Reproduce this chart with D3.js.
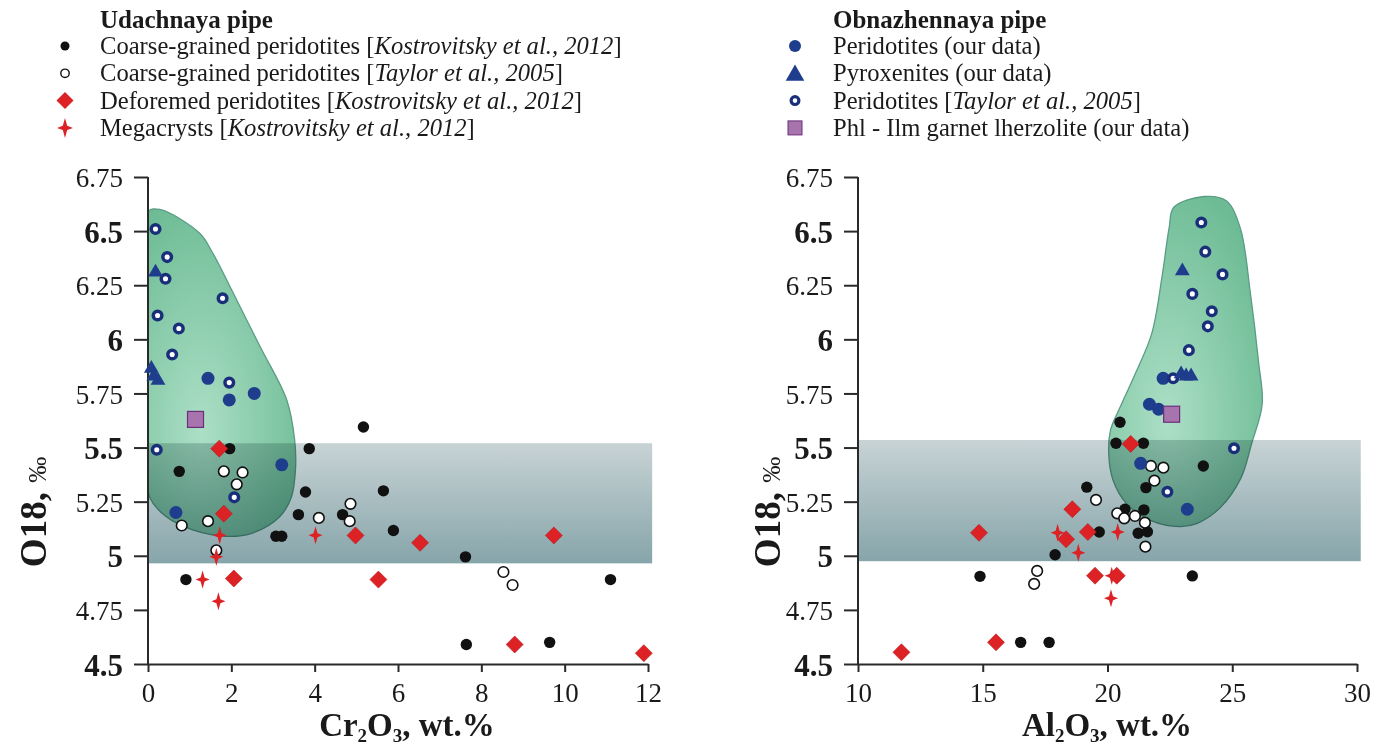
<!DOCTYPE html>
<html lang="en">

<head>
  <meta charset="UTF-8">
  <title>O18 vs Cr2O3 / Al2O3</title>
  <script src="https://d3js.org/d3.v7.min.js"></script>
  <style>
    body { margin: 0; background: #fff; }
    svg text { font-family: 'Liberation Serif', 'Times New Roman', serif; fill: #1a1a1a; }
    .axis path, .axis line { stroke: #2a2a2a; stroke-width: 2; }
  </style>
</head>

<body>
  <div id="chart"></div>

  <script>
    // Y ticks shared by both panels (bold ones are the half values)
    const yTicks = [4.5, 4.75, 5, 5.25, 5.5, 5.75, 6, 6.25, 6.5, 6.75];
    const yBold = [4.5, 5, 5.5, 6, 6.5];
    const crTicks = [0, 2, 4, 6, 8, 10, 12];
    const alTicks = [10, 15, 20, 25, 30];

    // ---- Udachnaya pipe, Cr2O3 panel ----
    const crCoarseKost = [[1.96,5.495],[3.87,5.495],[5.17,5.595],[0.75,5.39],[3.78,5.295],[5.65,5.30],[3.61,5.19],[4.67,5.19],[3.07,5.09],[3.21,5.09],[5.89,5.117],[7.62,4.995],[0.91,4.89],[11.1,4.89],[7.64,4.59],[9.64,4.60]];
    const crCoarseTaylor = [[1.82,5.39],[2.27,5.385],[2.13,5.33],[1.44,5.16],[0.81,5.14],[4.10,5.175],[4.86,5.24],[4.84,5.16],[1.64,5.025],[8.53,4.925],[8.75,4.865]];
    const crDeformed = [[1.71,5.495],[1.82,5.194],[4.98,5.094],[6.53,5.06],[9.74,5.094],[2.06,4.895],[5.53,4.89],[8.80,4.59],[11.9,4.55]];
    const crMegacrysts = [[1.72,5.095],[4.02,5.095],[1.64,4.995],[1.31,4.89],[1.69,4.79]];
    // Obnazhennaya pipe, Cr2O3 panel
    const crPeridOur = [[1.44,5.82],[1.95,5.72],[2.55,5.75],[3.21,5.42],[0.67,5.20]];
    const crPyrox = [[0.18,6.31],[0.08,5.865],[0.14,5.83],[0.24,5.81]];
    const crPeridTaylor = [[0.18,6.51],[0.46,6.38],[0.42,6.28],[0.23,6.11],[0.74,6.05],[0.58,5.93],[1.79,6.19],[1.95,5.80],[0.21,5.49],[2.07,5.27]];
    const crPhlIlm = [[1.14,5.63]];

    // ---- Udachnaya pipe, Al2O3 panel ----
    const alCoarseKost = [[20.50,5.617],[20.34,5.52],[21.44,5.52],[23.84,5.415],[19.17,5.317],[21.54,5.315],[20.70,5.215],[21.46,5.212],[19.67,5.11],[21.23,5.104],[21.60,5.111],[17.90,5.005],[14.89,4.905],[23.40,4.907],[16.52,4.60],[17.66,4.60]];
    const alCoarseTaylor = [[21.74,5.415],[22.24,5.407],[21.88,5.347],[19.54,5.258],[20.39,5.196],[20.67,5.173],[21.10,5.184],[21.50,5.153],[21.52,5.042],[17.18,4.93],[17.06,4.87]];
    const alDeformed = [[20.93,5.517],[18.59,5.215],[14.85,5.106],[19.21,5.11],[18.34,5.076],[19.50,4.908],[20.37,4.908],[15.53,4.60],[11.74,4.554]];
    const alMegacrysts = [[18.0,5.106],[20.41,5.11],[18.83,5.014],[20.17,4.908],[20.14,4.804]];
    // Obnazhennaya pipe, Al2O3 panel
    const alPeridOur = [[21.68,5.70],[22.05,5.677],[22.23,5.82],[21.33,5.427],[23.20,5.215]];
    const alPyrox = [[23.0,6.316],[22.95,5.84],[23.15,5.83],[23.35,5.83]];
    const alPeridTaylor = [[23.76,6.54],[23.92,6.405],[24.61,6.30],[23.40,6.21],[24.18,6.13],[24.02,6.06],[23.26,5.95],[22.63,5.82],[25.07,5.497],[22.40,5.296]];
    const alPhlIlm = [[22.57,5.654]];

    // Mantle band (O18 range) and field outlines
    const crBand = [0, 12.1, 4.965, 5.52];
    const alBand = [10, 30.15, 4.975, 5.535];
    const crField = [[0,6.59],[0.28,6.60],[1.24,6.49],[1.55,6.40],[2.03,6.22],[2.68,5.97],[3.33,5.72],[3.52,5.535],[3.54,5.40],[3.44,5.27],[3.16,5.18],[2.51,5.105],[1.88,5.09],[1.07,5.12],[0.44,5.18],[0.04,5.27],[0,5.35],[0,5.9]];
    const alField = [[23.87,6.66],[24.76,6.64],[25.32,6.515],[25.73,6.21],[26.05,5.90],[26.2,5.70],[25.78,5.52],[25.35,5.36],[24.5,5.22],[23.6,5.15],[22.9,5.135],[21.7,5.165],[20.77,5.24],[20.22,5.35],[20.05,5.47],[20.12,5.58],[20.48,5.68],[21.05,5.825],[21.77,6.025],[22.18,6.285],[22.47,6.515],[22.66,6.61]];

    var width = 1391, height = 749;
    var svg = d3.select("#chart").append("svg")
      .attr("width", width)
      .attr("height", height);

    var defs = svg.append("defs");

    // band gradient
    var bg = defs.append("linearGradient").attr("id", "bandGrad")
      .attr("x1", 0).attr("y1", 0).attr("x2", 0).attr("y2", 1);
    bg.append("stop").attr("offset", "0%").attr("stop-color", "#c8d3d5");
    bg.append("stop").attr("offset", "100%").attr("stop-color", "#86a5aa");

    // field gradient
    var fg = defs.append("radialGradient").attr("id", "fieldGrad")
      .attr("cx", 0.38).attr("cy", 0.68).attr("r", 0.75);
    fg.append("stop").attr("offset", "0%").attr("stop-color", "#acdfc6");
    fg.append("stop").attr("offset", "100%").attr("stop-color", "#6cbb94");

    var y = d3.scaleLinear().domain([4.5, 6.75]).range([664, 177]);

    // symbol paths
    function diamond(r) { return "M0," + (-r) + "L" + r + ",0L0," + r + "L" + (-r) + ",0Z"; }
    function star(h, w) {
      var a = h * 0.22;
      return "M0," + (-h) + "L" + a + "," + (-a) + "L" + w + ",0L" + a + "," + a +
        "L0," + h + "L" + (-a) + "," + a + "L" + (-w) + ",0L" + (-a) + "," + (-a) + "Z";
    }
    var tri = d3.symbol().type(d3.symbolTriangle);

    function drawPanel(opt) {
      var x = opt.x;
      var g = svg.append("g");

      // clip the field at the y axis
      defs.append("clipPath").attr("id", "clip-" + opt.id)
        .append("rect")
        .attr("x", x.range()[0]).attr("y", 0)
        .attr("width", 600).attr("height", 700);

      // band
      g.append("rect")
        .attr("x", x(opt.band[0]))
        .attr("y", y(opt.band[3]))
        .attr("width", x(opt.band[1]) - x(opt.band[0]))
        .attr("height", y(opt.band[2]) - y(opt.band[3]))
        .attr("fill", "url(#bandGrad)");

      // field
      g.append("path")
        .datum(opt.field)
        .attr("d", d3.line().x(d => x(d[0])).y(d => y(d[1])).curve(d3.curveCatmullRomClosed.alpha(0.5)))
        .attr("clip-path", "url(#clip-" + opt.id + ")")
        .attr("fill", "url(#fieldGrad)")
        .attr("stroke", "#5b9c85")
        .attr("stroke-width", 1.3)
        .style("mix-blend-mode", "multiply");

      // axes
      var ya = g.append("g").attr("class", "axis")
        .attr("transform", "translate(" + x.range()[0] + ",0)")
        .call(d3.axisLeft(y).tickValues(yTicks).tickSize(14).tickSizeOuter(0).tickPadding(11)
          .tickFormat(d => String(d)));
      ya.selectAll("text")
        .style("font-size", d => yBold.includes(d) ? "31px" : "27px")
        .style("font-weight", d => yBold.includes(d) ? "bold" : "normal")
        .attr("dy", "0.36em");

      var xa = g.append("g").attr("class", "axis")
        .attr("transform", "translate(0,664)")
        .call(d3.axisBottom(x).tickValues(opt.ticks).tickSize(8).tickSizeOuter(0).tickPadding(11));
      xa.selectAll("text").style("font-size", "27px");
      ya.select(".domain").attr("d", "M0," + y(6.75) + "V664");

      // points
      var pts = g.append("g");
      pts.selectAll(".ck").data(opt.coarseKost).enter().append("circle")
        .attr("cx", d => x(d[0])).attr("cy", d => y(d[1])).attr("r", 5.7)
        .attr("fill", "#111");
      pts.selectAll(".ct").data(opt.coarseTaylor).enter().append("circle")
        .attr("cx", d => x(d[0])).attr("cy", d => y(d[1])).attr("r", 5.3)
        .attr("fill", "#fff").attr("stroke", "#111").attr("stroke-width", 1.6);
      pts.selectAll(".df").data(opt.deformed).enter().append("path")
        .attr("transform", d => "translate(" + x(d[0]) + "," + y(d[1]) + ")")
        .attr("d", diamond(8.5)).attr("fill", "#dd2226").attr("stroke", "#b81a1e").attr("stroke-width", 0.6);
      pts.selectAll(".mg").data(opt.megacrysts).enter().append("path")
        .attr("transform", d => "translate(" + x(d[0]) + "," + y(d[1]) + ")")
        .attr("d", star(9, 7)).attr("fill", "#dd2226");
      pts.selectAll(".po").data(opt.peridOur).enter().append("circle")
        .attr("cx", d => x(d[0])).attr("cy", d => y(d[1])).attr("r", 6.5)
        .attr("fill", "#1e3d8c");
      pts.selectAll(".pt").data(opt.peridTaylor).enter().append("circle")
        .attr("cx", d => x(d[0])).attr("cy", d => y(d[1])).attr("r", 4.3)
        .attr("fill", "#fff").attr("stroke", "#1a2f7a").attr("stroke-width", 3.5);
      pts.selectAll(".px").data(opt.pyrox).enter().append("path")
        .attr("transform", d => "translate(" + x(d[0]) + "," + y(d[1]) + ")")
        .attr("d", tri.size(95)()).attr("fill", "#1e3d8c");
      pts.selectAll(".sq").data(opt.phlIlm).enter().append("rect")
        .attr("x", d => x(d[0]) - 8).attr("y", d => y(d[1]) - 8)
        .attr("width", 16).attr("height", 16)
        .attr("fill", "#a874ae").attr("stroke", "#6b2f7c").attr("stroke-width", 1.2);

      // y title
      var yt = g.append("text")
        .attr("transform", "translate(" + opt.yTitleX + ",512) rotate(-90)")
        .attr("text-anchor", "middle");
      yt.append("tspan").style("font-size", "37px").style("font-weight", "bold").text("O18, ");
      yt.append("tspan").style("font-size", "26px").text("‰");

      // x title
      var xt = g.append("text")
        .attr("x", opt.xTitleX).attr("y", 736)
        .attr("text-anchor", "middle")
        .style("font-size", "33px").style("font-weight", "bold");
      xt.append("tspan").text(opt.el);
      xt.append("tspan").attr("dy", 6).style("font-size", "19px").text("2");
      xt.append("tspan").attr("dy", -6).text("O");
      xt.append("tspan").attr("dy", 6).style("font-size", "19px").text("3");
      xt.append("tspan").attr("dy", -6).text(", wt.%");
    }

    drawPanel({
      id: "cr",
      x: d3.scaleLinear().domain([0, 12]).range([148, 648]),
      ticks: crTicks, band: crBand, field: crField,
      coarseKost: crCoarseKost, coarseTaylor: crCoarseTaylor, deformed: crDeformed, megacrysts: crMegacrysts,
      peridOur: crPeridOur, pyrox: crPyrox, peridTaylor: crPeridTaylor, phlIlm: crPhlIlm,
      yTitleX: 46, xTitleX: 407, el: "Cr"
    });
    drawPanel({
      id: "al",
      x: d3.scaleLinear().domain([10, 30]).range([858, 1357]),
      ticks: alTicks, band: alBand, field: alField,
      coarseKost: alCoarseKost, coarseTaylor: alCoarseTaylor, deformed: alDeformed, megacrysts: alMegacrysts,
      peridOur: alPeridOur, pyrox: alPyrox, peridTaylor: alPeridTaylor, phlIlm: alPhlIlm,
      yTitleX: 780, xTitleX: 1107, el: "Al"
    });

    // Legends
    function legend(lx, tx, title, items) {
      var g = svg.append("g");
      g.append("text").attr("x", tx).attr("y", 28)
        .style("font-size", "25px").style("font-weight", "bold").text(title);
      items.forEach(function (it, i) {
        var cy = 46 + i * 27.3;
        it.mark(g, lx, cy);
        var t = g.append("text").attr("x", tx).attr("y", cy + 8).style("font-size", "24.6px");
        t.append("tspan").text(it.a);
        if (it.i) {
          t.append("tspan").style("font-style", "italic").text(it.i);
          t.append("tspan").text("]");
        }
      });
    }

    legend(65, 100, "Udachnaya pipe", [
      { a: "Coarse-grained peridotites [", i: "Kostrovitsky et al., 2012",
        mark: (g, x, y) => g.append("circle").attr("cx", x).attr("cy", y).attr("r", 4.5).attr("fill", "#111") },
      { a: "Coarse-grained peridotites [", i: "Taylor et al., 2005",
        mark: (g, x, y) => g.append("circle").attr("cx", x).attr("cy", y).attr("r", 4.2).attr("fill", "#fff").attr("stroke", "#111").attr("stroke-width", 1.4) },
      { a: "Deforemed peridotites [", i: "Kostrovitsky et al., 2012",
        mark: (g, x, y) => g.append("path").attr("transform", "translate(" + x + "," + y + ")").attr("d", diamond(8.5)).attr("fill", "#dd2226") },
      { a: "Megacrysts [", i: "Kostrovitsky et al., 2012",
        mark: (g, x, y) => g.append("path").attr("transform", "translate(" + x + "," + y + ")").attr("d", star(10, 8)).attr("fill", "#dd2226") }
    ]);

    legend(795, 833, "Obnazhennaya pipe", [
      { a: "Peridotites (our data)",
        mark: (g, x, y) => g.append("circle").attr("cx", x).attr("cy", y).attr("r", 6).attr("fill", "#1e3d8c") },
      { a: "Pyroxenites (our data)",
        mark: (g, x, y) => g.append("path").attr("transform", "translate(" + x + "," + (y + 2) + ")").attr("d", tri.size(150)()).attr("fill", "#1e3d8c") },
      { a: "Peridotites [", i: "Taylor et al., 2005",
        mark: (g, x, y) => g.append("circle").attr("cx", x).attr("cy", y).attr("r", 3.9).attr("fill", "#fff").attr("stroke", "#1a2f7a").attr("stroke-width", 3.2) },
      { a: "Phl - Ilm garnet lherzolite (our data)",
        mark: (g, x, y) => g.append("rect").attr("x", x - 7).attr("y", y - 7).attr("width", 14).attr("height", 14).attr("fill", "#a874ae").attr("stroke", "#6b2f7c").attr("stroke-width", 1) }
    ]);
  </script>
</body>

</html>
